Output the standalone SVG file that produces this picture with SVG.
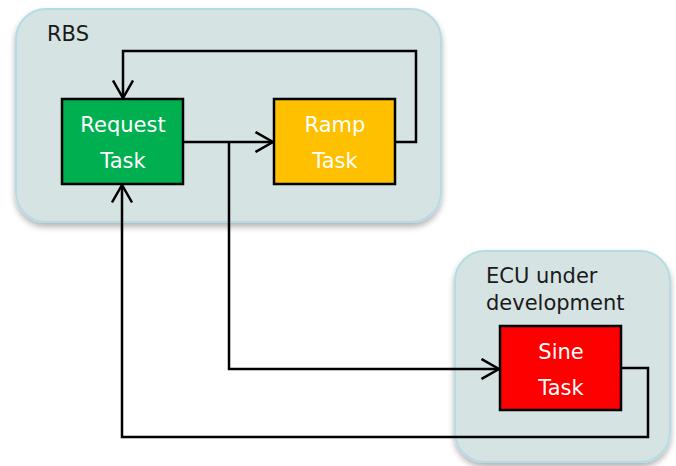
<svg xmlns="http://www.w3.org/2000/svg" width="676" height="466" viewBox="0 0 676 466">
  <defs>
    <filter id="shadow" x="-10%" y="-10%" width="120%" height="125%">
      <feGaussianBlur in="SourceAlpha" stdDeviation="3"/>
      <feOffset dx="0" dy="4" result="b"/>
      <feComponentTransfer><feFuncA type="linear" slope="0.3"/></feComponentTransfer>
      <feMerge><feMergeNode/><feMergeNode in="SourceGraphic"/></feMerge>
    </filter>
    <marker id="arrow" viewBox="0 0 20 22" refX="18.5" refY="11" markerWidth="20" markerHeight="22" markerUnits="userSpaceOnUse" orient="auto">
      <path d="M1,1 L18.5,11 L1,21" fill="none" stroke="#000" stroke-width="2.5"/>
    </marker>
    <style>
      .group { fill: #d6e3e3; stroke: #b4dde3; stroke-width: 2; filter: url(#shadow); }
      .task { stroke: #000; stroke-width: 2.5; }
      .title { font-family: "DejaVu Sans", Verdana, sans-serif; font-size: 21px; fill: #1a1a1a; }
      .label { font-family: "DejaVu Sans", Verdana, sans-serif; font-size: 21px; fill: #fff; text-anchor: middle; }
      .wire { fill: none; stroke: #000; stroke-width: 2.5; }
    </style>
  </defs>

  <g id="rbs">
    <rect class="group" x="16" y="9" width="425" height="213" rx="30"/>
    <text class="title" x="47" y="41">RBS</text>
  </g>

  <g id="ecu">
    <rect class="group" x="455" y="251" width="215" height="211" rx="30"/>
    <text class="title" x="486" y="283">ECU under</text>
    <text class="title" x="486" y="310">development</text>
  </g>

  <g id="request-task">
    <rect class="task" x="62" y="99" width="121" height="85" fill="#00b050"/>
    <text class="label" x="123" y="132">Request</text>
    <text class="label" x="123" y="168">Task</text>
  </g>

  <g id="ramp-task">
    <rect class="task" x="274" y="99" width="121" height="85" fill="#ffc000"/>
    <text class="label" x="335" y="132">Ramp</text>
    <text class="label" x="335" y="168">Task</text>
  </g>

  <g id="sine-task">
    <rect class="task" x="500" y="326" width="121" height="84" fill="#ff0000"/>
    <text class="label" x="561" y="359">Sine</text>
    <text class="label" x="561" y="395">Task</text>
  </g>

  <g id="connectors">
    <path class="wire" d="M183,142 H273" marker-end="url(#arrow)"/>
    <path class="wire" d="M395,142 H416 V51 H123 V98" marker-end="url(#arrow)"/>
    <path class="wire" d="M229,142 V369 H499" marker-end="url(#arrow)"/>
    <path class="wire" d="M621,368 H648 V437 H122 V185" marker-end="url(#arrow)"/>
  </g>
</svg>
